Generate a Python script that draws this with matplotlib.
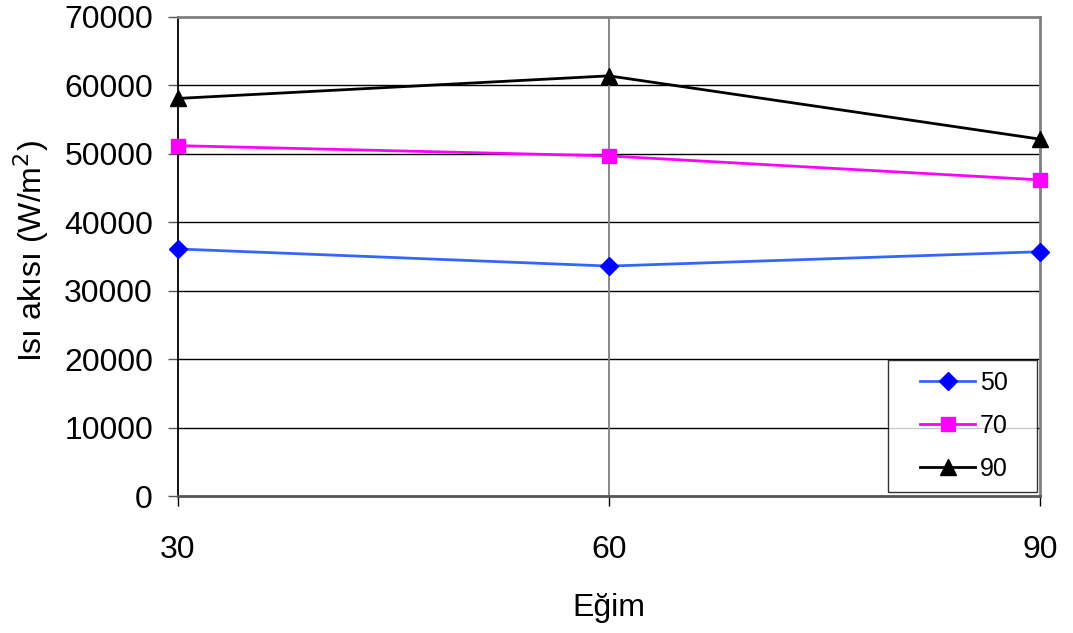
import matplotlib
matplotlib.use('Agg')
import matplotlib.pyplot as plt
from matplotlib.legend_handler import HandlerLine2D

plt.rcParams['font.family'] = ['Liberation Sans', 'DejaVu Sans']

# data
egim = [30, 60, 90]
seri_50 = [36100, 33600, 35700]
seri_70 = [51200, 49700, 46200]
seri_90 = [58100, 61400, 52150]
y_ticks = [0, 10000, 20000, 30000, 40000, 50000, 60000, 70000]

W, H = 1073, 633
fig = plt.figure(figsize=(W / 100, H / 100), dpi=100)
ax = fig.add_axes([178 / W, 1 - 496 / H, (1040 - 178) / W, (496 - 17) / H])

# horizontal grid (black), vertical grid at 60 (gray)
for yv in y_ticks[1:-1]:
    ax.axhline(yv, color='black', lw=1, zorder=1)
ax.axvline(60, color='#808080', lw=1.3, zorder=1)

l50, = ax.plot(egim, seri_50, color='#3366ff', lw=2, marker='D', ms=9,
               mfc='#0000ff', mec='#0000ff', label='50', zorder=3, clip_on=False)
l70, = ax.plot(egim, seri_70, color='#ff00ff', lw=2, marker='s', ms=10,
               mfc='#ff00ff', mec='#ff00ff', label='70', zorder=3, clip_on=False)
l90, = ax.plot(egim, seri_90, color='black', lw=2, marker='^', ms=11,
               mfc='black', mec='black', label='90', zorder=3, clip_on=False)

ax.set_xlim(30, 90)
ax.set_ylim(0, 70000)
ax.set_xticks(egim)
ax.set_yticks(y_ticks)

ax.spines['left'].set_color('black')
ax.spines['left'].set_linewidth(1.3)
ax.spines['bottom'].set_color('#555555')
ax.spines['bottom'].set_linewidth(2)
ax.spines['top'].set_color('#808080')
ax.spines['top'].set_linewidth(2)
ax.spines['right'].set_color('#808080')
ax.spines['right'].set_linewidth(2)

ax.tick_params(axis='y', length=7, width=1, color='#555555', pad=11, labelsize=23)
ax.tick_params(axis='x', length=7, width=1, color='black', pad=21, labelsize=23)

ax.set_xlabel('Eğim', fontsize=23, labelpad=20)
fig.text(31 / W, 1 - 251 / H, 'Isı akısı (W/m$^2$)', fontsize=23,
         rotation=90, ha='center', va='center')

# xpad pushes the legend handles right, giving the wider left margin
hmap = {l: HandlerLine2D(xpad=0.83) for l in (l50, l70, l90)}
leg = ax.legend(loc='lower left',
                bbox_to_anchor=(888 / W, 1 - 492 / H, 149 / W, 131 / H),
                bbox_transform=fig.transFigure, mode='expand',
                fontsize=18, frameon=True, handler_map=hmap,
                fancybox=False, edgecolor='black', handlelength=3.03,
                handletextpad=0.2, labelspacing=0.76, borderpad=0.45,
                borderaxespad=0)
leg.get_frame().set_linewidth(1)

fig.savefig('out.png', dpi=100)
